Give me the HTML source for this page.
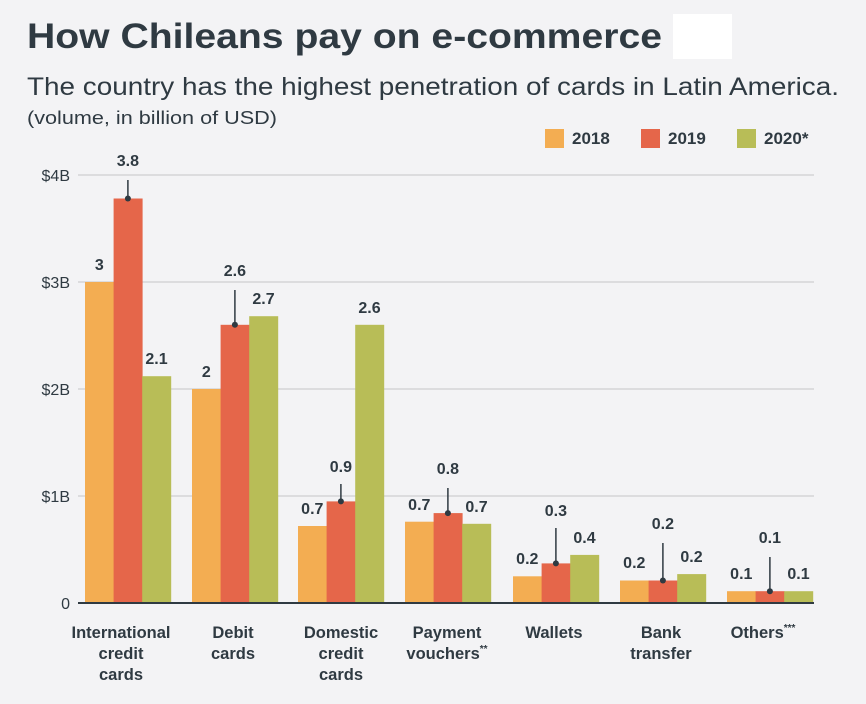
<!DOCTYPE html>
<html><head><meta charset="utf-8"><style>
html,body{margin:0;padding:0;background:#f3f3f5;}
svg{display:block;font-family:"Liberation Sans",sans-serif;}
</style></head><body>
<svg width="866" height="704" viewBox="0 0 866 704">
<rect width="866" height="704" fill="#f3f3f5"/>
<text x="27" y="48" font-size="35" font-weight="bold" fill="#2f3a42" textLength="635" lengthAdjust="spacingAndGlyphs">How Chileans pay on e-commerce</text>
<rect x="673" y="14" width="59" height="45" fill="#ffffff"/>
<text x="27" y="95" font-size="25" fill="#2f3a42" textLength="812" lengthAdjust="spacingAndGlyphs">The country has the highest penetration of cards in Latin America.</text>
<text x="27" y="124" font-size="18" fill="#2f3a42" textLength="250" lengthAdjust="spacingAndGlyphs">(volume, in billion of USD)</text>
<g font-size="17" font-weight="bold" fill="#2f3a42">
<rect x="545" y="129" width="19" height="19" fill="#f3ad52"/><text x="572" y="144">2018</text>
<rect x="641" y="129" width="19" height="19" fill="#e5664a"/><text x="668" y="144">2019</text>
<rect x="737" y="129" width="19" height="19" fill="#b8bd57"/><text x="764" y="144">2020*</text>
</g>
<g stroke="#c4c4c8" stroke-width="1">
<line x1="78" y1="175" x2="814" y2="175"/><line x1="78" y1="282" x2="814" y2="282"/>
<line x1="78" y1="389" x2="814" y2="389"/><line x1="78" y1="496" x2="814" y2="496"/>
</g>
<g font-size="16" fill="#2f3a42" text-anchor="end">
<text x="70" y="181">$4B</text><text x="70" y="288">$3B</text><text x="70" y="395">$2B</text><text x="70" y="502">$1B</text><text x="70" y="609">0</text>
</g>
<g>
<rect x="85" y="282" width="29" height="321" fill="#f3ad52"/><rect x="113.6" y="198.5" width="29" height="404.5" fill="#e5664a"/><rect x="142.2" y="376.2" width="29" height="226.8" fill="#b8bd57"/>
<rect x="192" y="389" width="29" height="214" fill="#f3ad52"/><rect x="220.6" y="324.8" width="29" height="278.2" fill="#e5664a"/><rect x="249.2" y="316.2" width="29" height="286.8" fill="#b8bd57"/>
<rect x="298" y="526" width="29" height="77" fill="#f3ad52"/><rect x="326.6" y="501.4" width="29" height="101.6" fill="#e5664a"/><rect x="355.2" y="324.8" width="29" height="278.2" fill="#b8bd57"/>
<rect x="405" y="521.7" width="29" height="81.3" fill="#f3ad52"/><rect x="433.6" y="513.1" width="29" height="89.9" fill="#e5664a"/><rect x="462.2" y="523.8" width="29" height="79.2" fill="#b8bd57"/>
<rect x="513" y="576.3" width="29" height="26.7" fill="#f3ad52"/><rect x="541.6" y="563.4" width="29" height="39.6" fill="#e5664a"/><rect x="570.2" y="554.9" width="29" height="48.1" fill="#b8bd57"/>
<rect x="620" y="580.5" width="29" height="22.5" fill="#f3ad52"/><rect x="648.6" y="580.5" width="29" height="22.5" fill="#e5664a"/><rect x="677.2" y="574.1" width="29" height="28.9" fill="#b8bd57"/>
<rect x="727" y="591.2" width="29" height="11.8" fill="#f3ad52"/><rect x="755.6" y="591.2" width="29" height="11.8" fill="#e5664a"/><rect x="784.2" y="591.2" width="29" height="11.8" fill="#b8bd57"/>
</g>
<g stroke="#2f3a42" stroke-width="1.5">
<line x1="127.9" y1="180" x2="127.9" y2="198.5"/><line x1="234.9" y1="290" x2="234.9" y2="324.8"/>
<line x1="340.9" y1="484" x2="340.9" y2="501.4"/><line x1="447.9" y1="488" x2="447.9" y2="513.1"/>
<line x1="555.9" y1="528" x2="555.9" y2="563.4"/><line x1="662.9" y1="543" x2="662.9" y2="580.5"/>
<line x1="769.9" y1="557" x2="769.9" y2="591.2"/>
</g>
<g fill="#2f3a42">
<circle cx="127.9" cy="198.5" r="3"/><circle cx="234.9" cy="324.8" r="3"/><circle cx="340.9" cy="501.4" r="3"/><circle cx="447.9" cy="513.1" r="3"/><circle cx="555.9" cy="563.4" r="3"/><circle cx="662.9" cy="580.5" r="3"/><circle cx="769.9" cy="591.2" r="3"/>
</g>
<g font-size="16" font-weight="bold" fill="#2f3a42" text-anchor="middle">
<text x="99.3" y="270">3</text><text x="127.9" y="166">3.8</text><text x="156.5" y="364">2.1</text>
<text x="206.3" y="377">2</text><text x="234.9" y="276">2.6</text><text x="263.5" y="304">2.7</text>
<text x="312.3" y="514">0.7</text><text x="340.9" y="472">0.9</text><text x="369.5" y="313">2.6</text>
<text x="419.3" y="510">0.7</text><text x="447.9" y="474">0.8</text><text x="476.5" y="512">0.7</text>
<text x="527.3" y="564">0.2</text><text x="555.9" y="516">0.3</text><text x="584.5" y="543">0.4</text>
<text x="634.3" y="568">0.2</text><text x="662.9" y="529">0.2</text><text x="691.5" y="562">0.2</text>
<text x="741.3" y="579">0.1</text><text x="769.9" y="543">0.1</text><text x="798.5" y="579">0.1</text>
</g>
<line x1="78" y1="603" x2="814" y2="603" stroke="#2f3a42" stroke-width="2"/>
<g font-size="16.5" font-weight="bold" fill="#2f3a42" text-anchor="middle">
<text x="121" y="638">International</text><text x="121" y="659">credit</text><text x="121" y="680">cards</text>
<text x="233" y="638">Debit</text><text x="233" y="659">cards</text>
<text x="341" y="638">Domestic</text><text x="341" y="659">credit</text><text x="341" y="680">cards</text>
<text x="447" y="638">Payment</text><text x="447" y="659">vouchers<tspan font-size="10" dy="-7">**</tspan></text>
<text x="554" y="638">Wallets</text>
<text x="661" y="638">Bank</text><text x="661" y="659">transfer</text>
<text x="763" y="638">Others<tspan font-size="10" dy="-7">***</tspan></text>
</g>
</svg>
</body></html>
